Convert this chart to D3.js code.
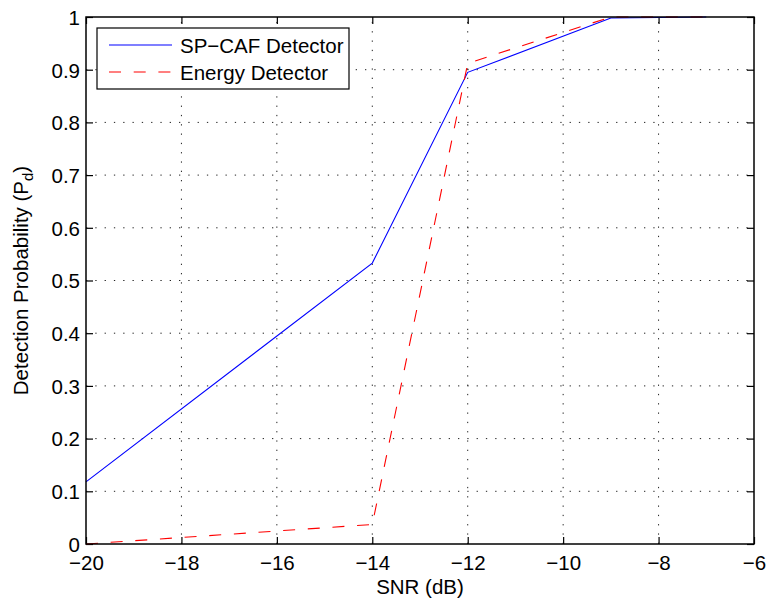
<!DOCTYPE html>
<html><head><meta charset="utf-8">
<script src="https://cdn.jsdelivr.net/npm/d3@7"></script>
<style>body{margin:0;background:#fff}svg{display:block}text{font-family:"Liberation Sans",Arial,Helvetica,sans-serif}</style>
</head><body><svg id="c" width="767" height="599"></svg>
<script>
const snr = [-20, -14, -12, -9, -7];
const spcaf = [0.118, 0.533, 0.895, 0.998, 1.0];
const energy = [0.0, 0.037, 0.912, 1.0, 1.0];
const xTicks = [-20, -18, -16, -14, -12, -10, -8, -6];
const yTicks = [0, 0.1, 0.2, 0.3, 0.4, 0.5, 0.6, 0.7, 0.8, 0.9, 1];
const seriesNames = ["SP\u2212CAF Detector", "Energy Detector"];

const svg = d3.select("#c");
const L = 86, R = 754, T = 17, B = 544;
const x = d3.scaleLinear().domain([-20, -6]).range([L, R]);
const y = d3.scaleLinear().domain([0, 1]).range([B, T]);
const fs = 20.5;
const fmtX = d => (d < 0 ? "\u2212" + Math.abs(d) : String(d));
const fmtY = d => (d === 0 ? "0" : d === 1 ? "1" : d3.format(".1f")(d));

// grid
const g = svg.append("g");
g.selectAll(".gx").data(xTicks.slice(1, -1)).enter().append("line")
  .attr("x1", d => x(d)).attr("x2", d => x(d)).attr("y1", B).attr("y2", T)
  .attr("stroke", "#222").attr("stroke-width", 1).attr("stroke-dasharray", "1.3,8");
g.selectAll(".gy").data(yTicks.slice(1, -1)).enter().append("line")
  .attr("y1", d => y(d)).attr("y2", d => y(d)).attr("x1", L).attr("x2", R)
  .attr("stroke", "#222").attr("stroke-width", 1).attr("stroke-dasharray", "1.3,8");

// axes via d3
const tl = 7;
const axB = svg.append("g").attr("transform", `translate(0,${B})`)
  .call(d3.axisBottom(x).tickValues(xTicks).tickFormat(fmtX).tickSizeInner(-tl).tickSizeOuter(0).tickPadding(11));
const axT = svg.append("g").attr("transform", `translate(0,${T})`)
  .call(d3.axisTop(x).tickValues(xTicks).tickFormat("").tickSizeInner(-tl).tickSizeOuter(0));
const axL = svg.append("g").attr("transform", `translate(${L},0)`)
  .call(d3.axisLeft(y).tickValues(yTicks).tickFormat(fmtY).tickSizeInner(-tl).tickSizeOuter(0).tickPadding(6));
const axR = svg.append("g").attr("transform", `translate(${R},0)`)
  .call(d3.axisRight(y).tickValues(yTicks).tickFormat("").tickSizeInner(-tl).tickSizeOuter(0));
[axB, axT, axL, axR].forEach(a => {
  a.select(".domain").remove();
  a.selectAll("line").attr("stroke", "#000").attr("stroke-width", 1.2);
  a.selectAll("text").attr("font-size", fs).attr("fill", "#000")
    .style("font-family", '"Liberation Sans",Arial,sans-serif');
});
axB.selectAll("text").attr("dy", "0.71em");
axL.selectAll("text").attr("dy", "0.36em");

// lines
const line = d3.line().x((d, i) => x(snr[i])).y(d => y(d));
svg.append("path").datum(spcaf).attr("d", line).attr("fill", "none")
  .attr("stroke", "#0000ff").attr("stroke-width", 1.1);
svg.append("path").datum(energy).attr("d", line).attr("fill", "none")
  .attr("stroke", "#ff0000").attr("stroke-width", 1.1).attr("stroke-dasharray", "12,12.7");

// frame
svg.append("rect").attr("x", L).attr("y", T).attr("width", R - L).attr("height", B - T)
  .attr("fill", "none").attr("stroke", "#000").attr("stroke-width", 1.5);

// axis labels
svg.append("text").attr("x", (L + R) / 2).attr("y", 594).attr("text-anchor", "middle")
  .attr("font-size", fs).text("SNR (dB)");
const yl = svg.append("text").attr("transform", `translate(28,${(T + B) / 2}) rotate(-90)`)
  .attr("text-anchor", "middle").attr("font-size", fs);
yl.append("tspan").text("Detection Probability (P");
yl.append("tspan").attr("font-size", 15).attr("dy", 5).text("d");
yl.append("tspan").attr("dy", -5).text(")");

// legend
const lg = svg.append("g");
lg.append("rect").attr("x", 97).attr("y", 28).attr("width", 252).attr("height", 61)
  .attr("fill", "#fff").attr("stroke", "#000").attr("stroke-width", 1.2);
const lgColors = ["#0000ff", "#ff0000"], lgDash = [null, "12,12.7"], lgY = [45, 72];
seriesNames.forEach((n, i) => {
  lg.append("line").attr("x1", 109).attr("x2", 172).attr("y1", lgY[i]).attr("y2", lgY[i])
    .attr("stroke", lgColors[i]).attr("stroke-width", 1.1).attr("stroke-dasharray", lgDash[i]);
  lg.append("text").attr("x", 180).attr("y", lgY[i] + 7.5).attr("font-size", fs).text(n);
});
</script></body></html>
